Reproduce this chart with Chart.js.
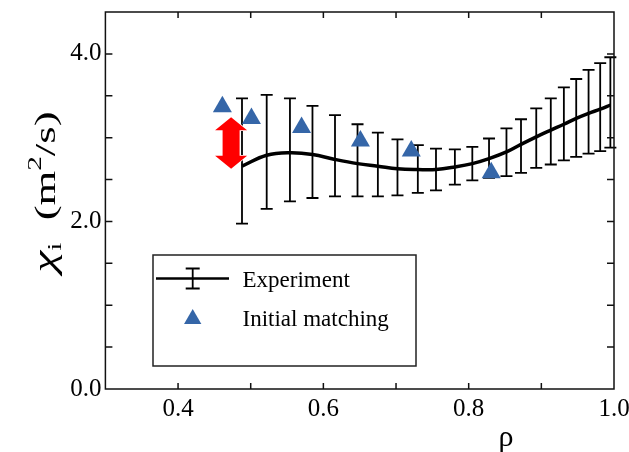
<!DOCTYPE html>
<html>
<head>
<meta charset="utf-8">
<script src="https://cdn.jsdelivr.net/npm/chart.js@4.4.0/dist/chart.umd.min.js"></script>
<style>
  html, body { margin: 0; padding: 0; background: #fff; }
</style>
</head>
<body>
<canvas id="chart" width="629" height="452"></canvas>
<script>
// experiment profile (curve + error bars)
const rho = [0.488, 0.522, 0.554, 0.585, 0.616, 0.647, 0.675, 0.702, 0.730, 0.755, 0.781,
             0.805, 0.828, 0.852, 0.872, 0.893, 0.913, 0.931, 0.948, 0.965, 0.981, 0.995];
const chiExp = [2.66, 2.79, 2.82, 2.80, 2.74, 2.69, 2.66, 2.63, 2.62, 2.62, 2.65,
                2.69, 2.75, 2.83, 2.92, 3.01, 3.09, 3.16, 3.23, 3.29, 3.34, 3.39];
const chiLow = [1.975, 2.15, 2.24, 2.28, 2.30, 2.30, 2.30, 2.31, 2.34, 2.37, 2.44,
                2.49, 2.52, 2.54, 2.58, 2.64, 2.68, 2.73, 2.77, 2.81, 2.84, 2.88];
const chiHigh = [3.47, 3.51, 3.47, 3.38, 3.27, 3.16, 3.06, 2.98, 2.91, 2.87, 2.86,
                 2.89, 2.99, 3.11, 3.22, 3.35, 3.47, 3.60, 3.70, 3.81, 3.89, 3.96];

// initial matching (triangles)
const rhoInit = [0.461, 0.501, 0.570, 0.651, 0.721, 0.831];
const chiInit = [3.37, 3.23, 3.12, 2.96, 2.84, 2.58];

// labelled ticks
const xTickLabels = [0.4, 0.6, 0.8, 1.0];
const yTickLabels = [0.0, 2.0, 4.0];

// red double arrow
const arrowRho = 0.473;
const arrowRange = [2.63, 3.245];

const legendLabels = ['Experiment', 'Initial matching'];

const SERIF = "'Liberation Serif', 'Times New Roman', serif";
const BLUE = '#3566a8';

function hasLabel(list, v) {
  return list.some(t => Math.abs(t - v) < 1e-6);
}

const deco = {
  id: 'deco',
  beforeDatasetsDraw(chart) {
    const { ctx, scales: { x, y } } = chart;
    ctx.save();
    ctx.strokeStyle = '#000';
    ctx.lineWidth = 1.8;
    rho.forEach((r, i) => {
      const px = x.getPixelForValue(r);
      const yl = y.getPixelForValue(chiLow[i]);
      const yh = y.getPixelForValue(chiHigh[i]);
      ctx.beginPath();
      ctx.moveTo(px, yl); ctx.lineTo(px, yh);
      ctx.moveTo(px - 6, yl); ctx.lineTo(px + 6, yl);
      ctx.moveTo(px - 6, yh); ctx.lineTo(px + 6, yh);
      ctx.stroke();
    });
    ctx.restore();
  },
  afterDatasetsDraw(chart) {
    const { ctx, scales: { x, y } } = chart;
    const cx = x.getPixelForValue(arrowRho);
    const yt = y.getPixelForValue(arrowRange[1]);
    const yb = y.getPixelForValue(arrowRange[0]);
    const hw = 16, sw = 8.5, hl = 13;
    ctx.save();
    ctx.beginPath();
    ctx.moveTo(cx, yt);
    ctx.lineTo(cx + hw, yt + hl);
    ctx.lineTo(cx + sw, yt + hl);
    ctx.lineTo(cx + sw, yb - hl);
    ctx.lineTo(cx + hw, yb - hl);
    ctx.lineTo(cx, yb);
    ctx.lineTo(cx - hw, yb - hl);
    ctx.lineTo(cx - sw, yb - hl);
    ctx.lineTo(cx - sw, yt + hl);
    ctx.lineTo(cx - hw, yt + hl);
    ctx.closePath();
    ctx.fillStyle = '#ff0000';
    ctx.strokeStyle = '#fff';
    ctx.lineWidth = 1.5;
    ctx.stroke();
    ctx.fill();
    ctx.restore();
  },
  afterDraw(chart) {
    const { ctx, chartArea: a, scales: { x, y } } = chart;
    ctx.save();
    // frame
    ctx.strokeStyle = '#111';
    ctx.lineWidth = 1.5;
    ctx.strokeRect(a.left, a.top, a.right - a.left, a.bottom - a.top);
    // inward ticks
    ctx.beginPath();
    x.ticks.forEach(t => {
      if (t.value <= x.min + 1e-6 || t.value >= x.max - 1e-6) return;
      const px = x.getPixelForValue(t.value);
      ctx.moveTo(px, a.bottom); ctx.lineTo(px, a.bottom - 6);
      ctx.moveTo(px, a.top); ctx.lineTo(px, a.top + 6);
    });
    y.ticks.forEach(t => {
      if (t.value <= y.min + 1e-6 || t.value >= y.max - 1e-6) return;
      const py = y.getPixelForValue(t.value);
      ctx.moveTo(a.left, py); ctx.lineTo(a.left + 7, py);
      ctx.moveTo(a.right, py); ctx.lineTo(a.right - 7, py);
    });
    ctx.stroke();

    // x title
    ctx.fillStyle = '#000';
    ctx.font = '30px ' + SERIF;
    ctx.textAlign = 'center';
    ctx.textBaseline = 'alphabetic';
    ctx.fillText('ρ', 506, 446);

    // y title: χ_i (m^2/s), rotated
    const parts = [
      { t: 'χ', font: 'italic 32px ' + SERIF, dy: 0 },
      { t: 'i', font: '19px ' + SERIF, dy: 6 },
      { t: '  (m', font: '29px ' + SERIF, dy: 0 },
      { t: '2', font: '19px ' + SERIF, dy: -14 },
      { t: '/s)', font: '29px ' + SERIF, dy: 0 }
    ];
    let w = 0;
    parts.forEach(p => { ctx.font = p.font; p.w = ctx.measureText(p.t).width; w += p.w; });
    const span = 161;
    ctx.translate(55, 192);
    ctx.rotate(-Math.PI / 2);
    ctx.scale(span / w, 1);
    ctx.textAlign = 'left';
    let cur = -w / 2;
    parts.forEach(p => {
      ctx.font = p.font;
      ctx.fillText(p.t, cur, p.dy);
      cur += p.w;
    });
    ctx.restore();

    // legend
    ctx.save();
    ctx.strokeStyle = '#222';
    ctx.lineWidth = 1.5;
    ctx.strokeRect(153, 255, 263, 111);
    ctx.strokeStyle = '#000';
    ctx.lineWidth = 2.5;
    ctx.beginPath();
    ctx.moveTo(156, 278.5); ctx.lineTo(229, 278.5);
    ctx.stroke();
    ctx.lineWidth = 1.8;
    ctx.beginPath();
    ctx.moveTo(192.7, 268.5); ctx.lineTo(192.7, 288.5);
    ctx.moveTo(185.7, 268.5); ctx.lineTo(199.7, 268.5);
    ctx.moveTo(185.7, 288.5); ctx.lineTo(199.7, 288.5);
    ctx.stroke();
    const r = 10, tx = 192.7, ty = 319;
    ctx.fillStyle = BLUE;
    ctx.beginPath();
    ctx.moveTo(tx, ty - r);
    ctx.lineTo(tx + r * Math.sin(2 * Math.PI / 3), ty + r / 2);
    ctx.lineTo(tx - r * Math.sin(2 * Math.PI / 3), ty + r / 2);
    ctx.closePath();
    ctx.fill();
    ctx.fillStyle = '#000';
    ctx.font = '23px ' + SERIF;
    ctx.textAlign = 'left';
    ctx.textBaseline = 'alphabetic';
    ctx.fillText(legendLabels[0], 242.5, 287);
    ctx.fillText(legendLabels[1], 242.5, 326);
    ctx.restore();
  }
};

new Chart(document.getElementById('chart'), {
  data: {
    datasets: [
      {
        type: 'scatter',
        label: legendLabels[1],
        data: rhoInit.map((r, i) => ({ x: r, y: chiInit[i] })),
        pointStyle: 'triangle',
        pointRadius: 11,
        backgroundColor: BLUE,
        borderWidth: 0
      },
      {
        type: 'line',
        label: legendLabels[0],
        data: rho.map((r, i) => ({ x: r, y: chiExp[i] })),
        borderColor: '#000',
        borderWidth: 3.5,
        pointRadius: 0,
        fill: false,
        tension: 0.4
      }
    ]
  },
  options: {
    responsive: false,
    animation: false,
    layout: { padding: { top: 12, right: 15, left: 0, bottom: 0 } },
    plugins: { legend: { display: false }, tooltip: { enabled: false } },
    scales: {
      x: {
        type: 'linear',
        min: 0.3,
        max: 1.0,
        grid: { display: false, drawTicks: false },
        border: { display: false },
        ticks: {
          stepSize: 0.1,
          maxRotation: 0,
          autoSkip: false,
          padding: 5,
          color: '#000',
          font: { family: SERIF, size: 25 },
          callback: v => hasLabel(xTickLabels, v) ? v.toFixed(1) : ''
        },
        afterFit(s) { s.height = 63; s.paddingLeft = 0; s.paddingRight = 0; }
      },
      y: {
        min: 0,
        max: 4.5,
        grid: { display: false, drawTicks: false },
        border: { display: false },
        ticks: {
          stepSize: 0.5,
          autoSkip: false,
          padding: 4,
          color: '#000',
          font: { family: SERIF, size: 25 },
          callback: v => hasLabel(yTickLabels, v) ? v.toFixed(1) : ''
        },
        afterFit(s) { s.width = 105.4; s.paddingTop = 0; s.paddingBottom = 0; }
      }
    }
  },
  plugins: [deco]
});
</script>
</body>
</html>
